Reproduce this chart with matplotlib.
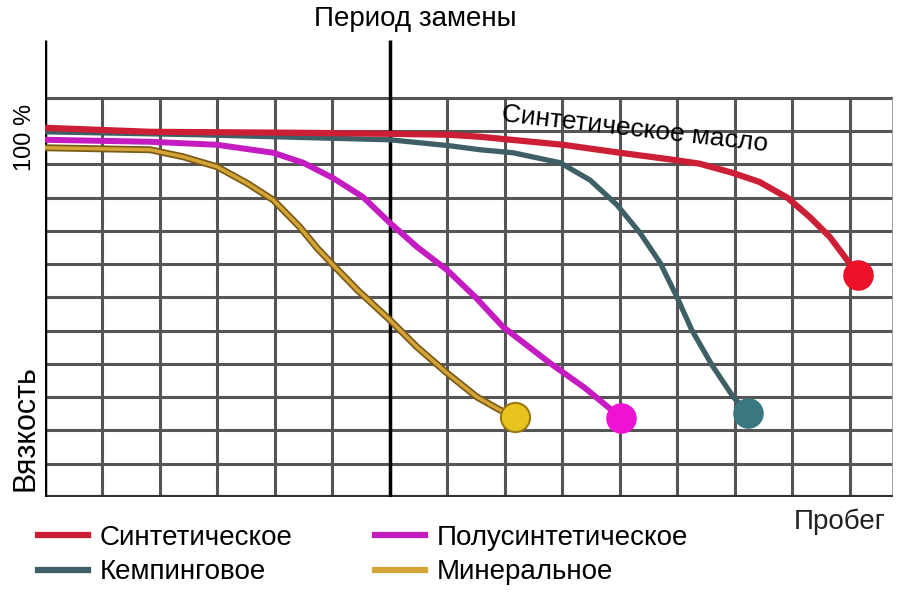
import matplotlib.pyplot as plt
from matplotlib.lines import Line2D
import numpy as np

plt.rcParams['font.family'] = ['Liberation Sans', 'DejaVu Sans']

# probeg (grid units) / vyazkost (grid units)
synth_x = [0, 1.83, 4.43, 6.0, 7.04, 7.57, 9.01, 10.0, 10.92, 11.39, 11.97, 12.43, 12.92, 13.30, 13.65, 13.95, 14.14]
synth_y = [11.10, 10.98, 10.95, 10.92, 10.89, 10.83, 10.59, 10.35, 10.14, 10.02, 9.74, 9.47, 8.99, 8.42, 7.82, 7.13, 6.68]

camp_x = [0, 2.70, 6.0, 7.04, 7.57, 8.14, 8.96, 9.48, 9.95, 10.35, 10.70, 10.99, 11.25, 11.60, 11.97, 12.23]
camp_y = [10.98, 10.89, 10.74, 10.56, 10.44, 10.35, 10.05, 9.53, 8.78, 7.94, 7.04, 6.02, 5.02, 3.97, 3.01, 2.53]

semi_x = [0, 1.83, 2.99, 3.97, 4.49, 5.01, 5.53, 6.0, 6.47, 6.99, 7.48, 7.97, 8.78, 9.39, 10.02]
semi_y = [10.74, 10.68, 10.59, 10.35, 10.05, 9.59, 9.02, 8.24, 7.52, 6.83, 6.02, 5.11, 4.03, 3.28, 2.38]

min_x = [0, 1.83, 2.40, 2.99, 3.51, 3.97, 4.43, 4.73, 5.01, 5.43, 6.0, 6.47, 6.99, 7.51, 7.91, 8.17]
min_y = [10.50, 10.44, 10.23, 9.93, 9.44, 8.93, 8.12, 7.49, 6.98, 6.23, 5.32, 4.51, 3.73, 3.01, 2.62, 2.41]

labels = ['Синтетическое', 'Кемпинговое', 'Полусинтетическое', 'Минеральное']
line_colors = ['#cc1f35', '#3f5f66', '#c41cc0', '#d4a536']
dot_colors = ['#ec1028', '#3a7880', '#f012d2', '#e8c420']

fig = plt.figure(figsize=(9, 5.97), dpi=100, facecolor='white')
ax = fig.add_axes([45 / 900, 100 / 597, 848 / 900, 457 / 597])
ax.set_xlim(0, 14.75)
ax.set_ylim(0, 13.74)
ax.axis('off')

# grid
grid_c = '#555555'
ax.hlines(np.arange(1, 13), 0, 14.75, color=grid_c, lw=2.2, zorder=1)
ax.vlines(np.arange(1, 15), 0, 12, color=grid_c, lw=2.2, zorder=1)
ax.vlines(14.75, 0, 12, color='#999999', lw=2, zorder=1)
ax.hlines(0, 0, 14.75, color='#333333', lw=3, zorder=2)
ax.vlines(0, 0, 13.74, color='black', lw=2.5, zorder=2)
ax.vlines(6, 0, 13.74, color='black', lw=2.5, zorder=2)

# curves
kw = dict(solid_capstyle='round', solid_joinstyle='round')
ax.plot(min_x, min_y, color='#7a5a18', lw=5, zorder=3, **kw)
ax.plot(min_x, min_y, color=line_colors[3], lw=2.5, zorder=3, **kw)
ax.plot(semi_x, semi_y, color=line_colors[2], lw=4.3, zorder=4, **kw)
ax.plot(camp_x, camp_y, color=line_colors[1], lw=3.8, zorder=5, **kw)
ax.plot(synth_x, synth_y, color=line_colors[0], lw=4.5, zorder=6, **kw)

ends = [(synth_x, synth_y), (camp_x, camp_y), (semi_x, semi_y)]
for (xs, ys), c in zip(ends, dot_colors):
    ax.plot(xs[-1], ys[-1], 'o', ms=21, color=c, mec=c, zorder=7)
ax.plot(min_x[-1], min_y[-1], 'o', ms=21, color=dot_colors[3], mec='#9a7a10', mew=1.5, zorder=7)

# texts
fig.text(415 / 900, 1 - 19 / 597, 'Период замены', ha='center', va='center', fontsize=20)
fig.text(635 / 900, 1 - 129 / 597, 'Синтетическое масло', ha='center', va='center',
         fontsize=19, rotation=-6.5)
fig.text(25 / 900, 1 - 137 / 597, '100 %', ha='center', va='center', fontsize=17, rotation=90)
fig.text(25 / 900, 1 - 428 / 597, 'Вязкость', ha='center', va='center', fontsize=22, rotation=90)
fig.text(840 / 900, 1 - 522 / 597, 'Пробег', ha='center', va='center', fontsize=20, color='#222222')

handles = []
for lab, c in zip(labels, line_colors):
    handles.append(Line2D([0], [0], color=c, lw=4.5, label=lab))
fig.legend(handles=handles, ncol=2, loc='upper left', bbox_to_anchor=(38 / 900, 1 - 525 / 597),
           frameon=False, fontsize=20, handlelength=1.8, handletextpad=0.43,
           columnspacing=2.95, labelspacing=0.3, borderpad=0, borderaxespad=0)

plt.savefig('out.png', dpi=100, facecolor='white')
plt.close()
